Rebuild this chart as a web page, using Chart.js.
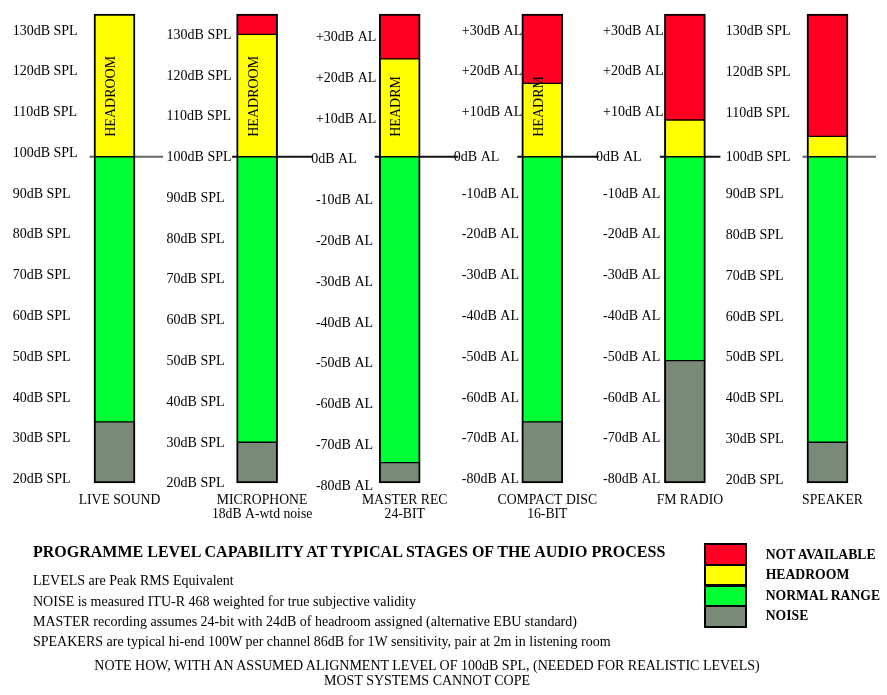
<!DOCTYPE html>
<html>
<head>
<meta charset="utf-8">
<script src="https://cdn.jsdelivr.net/npm/chart.js@4.4.0/dist/chart.umd.min.js"></script>
<style>
html,body{margin:0;padding:0;background:#fff;}
#wrap{position:relative;width:887px;height:695px;overflow:hidden;font-family:"Liberation Serif","Times New Roman",serif;color:#000;}
#c{position:absolute;left:0;top:0;}
.t{position:absolute;white-space:nowrap;line-height:20px;font-size:14px;}
.b{font-weight:bold;}
.sw{position:absolute;box-sizing:border-box;border:2px solid #000;}
</style>
</head>
<body>
<div id="wrap">
<canvas id="c" width="887" height="695"></canvas>
<div class="t b" style="left:33px;top:541.7px;font-size:16px">PROGRAMME LEVEL CAPABILITY AT TYPICAL STAGES OF THE AUDIO PROCESS</div>
<div class="t" style="left:33px;top:571px">LEVELS are Peak RMS Equivalent</div>
<div class="t" style="left:33px;top:591.7px">NOISE is measured ITU-R 468 weighted for true subjective validity</div>
<div class="t" style="left:33px;top:611.7px">MASTER recording assumes 24-bit with 24dB of headroom assigned (alternative EBU standard)</div>
<div class="t" style="left:33px;top:631.7px">SPEAKERS are typical hi-end 100W per channel 86dB for 1W sensitivity, pair at 2m in listening room</div>
<div class="t" style="left:0;width:854px;text-align:center;top:656px">NOTE HOW, WITH AN ASSUMED ALIGNMENT LEVEL OF 100dB SPL, (NEEDED FOR REALISTIC LEVELS)</div>
<div class="t" style="left:0;width:854px;text-align:center;top:670.7px">MOST SYSTEMS CANNOT COPE</div>
<div id="legend"></div>
</div>
<script>
// ---------- data ----------
const categories = [['LIVE SOUND'], ['MICROPHONE', '18dB A-wtd noise'], ['MASTER REC', '24-BIT'], ['COMPACT DISC', '16-BIT'], ['FM RADIO'], ['SPEAKER']];
const scaleUnits = ['SPL', 'SPL', 'AL', 'AL', 'AL', 'SPL'];
const tickValues = [30, 20, 10, 0, -10, -20, -30, -40, -50, -60, -70, -80]; // dB relative to alignment level
const splTickLabels = ['130dB SPL', '120dB SPL', '110dB SPL', '100dB SPL', '90dB SPL', '80dB SPL', '70dB SPL', '60dB SPL', '50dB SPL', '40dB SPL', '30dB SPL', '20dB SPL'];
const alTickLabels = ['+30dB AL', '+20dB AL', '+10dB AL', '0dB AL', '-10dB AL', '-20dB AL', '-30dB AL', '-40dB AL', '-50dB AL', '-60dB AL', '-70dB AL', '-80dB AL'];
const rangeBottom = -80;   // 20dB SPL
const rangeTop = 35;       // 135dB SPL
const noiseFloor = [-65, -70, -75, -65, -50, -70];     // top of noise
const headroomCeiling = [35, 30, 24, 18, 9, 5];        // top of headroom
const headroomLabels = ['HEADROOM', 'HEADROOM', 'HEADRM', 'HEADRM', '', ''];
const seriesNames = ['NOISE', 'NORMAL RANGE', 'HEADROOM', 'NOT AVAILABLE'];
const seriesColors = ['#7A8A78', '#00FF33', '#FFFF00', '#FF0022'];

// ---------- layout constants ----------
const LABEL_DX = [-101.8, -90.5, -83.8, -80.5, -81.8, -101.8];
const LABEL_DY = [-3.5, 0.7, 3, -3.5, -3.5, -3];
const ZERO_DX = [0, 0, -4.7, -8, -7, 0];
const ZERO_DY = [-3.5, 0.7, 3, 0.3, 0.3, 1];
const LINE_RIGHT = [48.5, 55.5, 58.5, 56.5, 35.5, 48.5];
const LINE_COLORS = ['#666', '#111', '#111', '#111', '#111', '#666'];
const FONT = '"Liberation Serif", "Times New Roman", serif';

const ranges = [
  categories.map((_, i) => [rangeBottom, noiseFloor[i]]),
  categories.map((_, i) => [noiseFloor[i], 0]),
  categories.map((_, i) => [0, headroomCeiling[i]]),
  categories.map((_, i) => headroomCeiling[i] < rangeTop ? [headroomCeiling[i], rangeTop] : null)
];

const columnPlugin = {
  id: 'columnDecor',
  beforeDatasetsDraw(chart) {
    const {ctx, scales: {x, y}} = chart;
    const py = y.getPixelForValue(0);
    ctx.save();
    ctx.lineWidth = 2;
    categories.forEach((_, i) => {
      const cx = x.getPixelForValue(i);
      ctx.strokeStyle = LINE_COLORS[i];
      ctx.beginPath();
      ctx.moveTo(cx - 25, py);
      ctx.lineTo(cx + LINE_RIGHT[i], py);
      ctx.stroke();
    });
    ctx.restore();
  },
  afterDatasetsDraw(chart) {
    const {ctx, scales: {x, y}} = chart;
    ctx.save();
    ctx.fillStyle = '#000';
    ctx.font = '14px ' + FONT;
    ctx.textAlign = 'left';
    ctx.textBaseline = 'middle';
    categories.forEach((_, i) => {
      const cx = x.getPixelForValue(i);
      const labels = scaleUnits[i] === 'SPL' ? splTickLabels : alTickLabels;
      tickValues.forEach((v, k) => {
        const isZero = v === 0;
        const dx = LABEL_DX[i] + (isZero ? ZERO_DX[i] : 0);
        const dy = isZero ? ZERO_DY[i] : LABEL_DY[i];
        ctx.fillText(labels[k], cx + dx, y.getPixelForValue(v) + dy);
      });
      if (headroomLabels[i]) {
        ctx.save();
        ctx.textBaseline = 'alphabetic';
        ctx.translate(cx + 0.5, y.getPixelForValue(0) - 20);
        ctx.rotate(-Math.PI / 2);
        ctx.fillText(headroomLabels[i], 0, 0);
        ctx.restore();
      }
    });
    ctx.restore();
  }
};

const chart = new Chart(document.getElementById('c'), {
  type: 'bar',
  data: {
    labels: categories,
    datasets: seriesNames.map((name, s) => ({
      label: name,
      data: ranges[s],
      backgroundColor: seriesColors[s],
      borderColor: '#000',
      borderSkipped: false,
      borderWidth: (ctx) => {
        const r = ctx.raw;
        if (!r) return 0;
        return {left: 2, right: 2, top: r[1] >= rangeTop ? 2 : 1, bottom: r[0] <= rangeBottom ? 2 : 1};
      },
      grouped: false,
      barThickness: 41,
      clip: false
    }))
  },
  options: {
    responsive: false,
    animation: false,
    devicePixelRatio: 1,
    layout: {padding: {left: 114.5, right: 59.5, top: 14, bottom: 163.2}},
    plugins: {legend: {display: false}, tooltip: {enabled: false}},
    scales: {
      x: {
        type: 'category',
        offset: false,
        grid: {display: false, drawTicks: false},
        border: {display: false},
        ticks: {
          color: '#000',
          padding: 10,
          labelOffset: 5,
          maxRotation: 0,
          autoSkip: false,
          font: {family: FONT, size: 13.7, lineHeight: 1.05}
        }
      },
      y: {
        type: 'linear',
        min: rangeBottom,
        max: rangeTop,
        display: false
      }
    }
  },
  plugins: [columnPlugin]
});

// legend built from the datasets
const legendEl = document.getElementById('legend');
[...chart.data.datasets].reverse().forEach((ds, k) => {
  const sw = document.createElement('div');
  sw.className = 'sw';
  sw.style.left = '704.3px';
  sw.style.top = (543.3 + k * 20.6) + 'px';
  sw.style.width = '42.4px';
  sw.style.height = '22.6px';
  sw.style.background = ds.backgroundColor;
  legendEl.appendChild(sw);
  const lb = document.createElement('div');
  lb.className = 't b';
  lb.style.left = '765.7px';
  lb.style.top = (545 + k * 20.4) + 'px';
  lb.style.fontSize = '13.7px';
  lb.textContent = ds.label;
  legendEl.appendChild(lb);
});
</script>
</body>
</html>
